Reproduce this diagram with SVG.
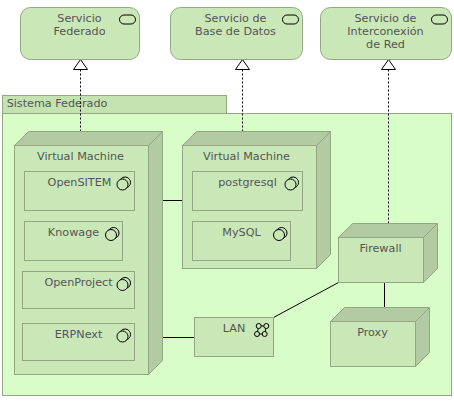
<svg xmlns="http://www.w3.org/2000/svg" width="454" height="401" viewBox="0 0 454 401">
<style>
text{font-family:"DejaVu Sans",sans-serif;font-size:11.2px;fill:#555;text-anchor:middle}
.b{fill:#c9e7b7;stroke:#92a882;stroke-width:1}
.d{fill:#b2cba3;stroke:#92a882;stroke-width:1}
.g{fill:#d9fdc9;stroke:#92a882}
.t{fill:#c4e3b1;stroke:#92a882}
.i{fill:none;stroke:#000;stroke-width:1}
.c{stroke:#000;stroke-width:1;fill:none}
.r{stroke:#000;stroke-width:1;fill:none;stroke-dasharray:2 2}
</style>
<defs>
<g id="svc"><rect x="-8" y="-4.500" width="16" height="9" rx="4.500" class="i"/></g>
<g id="comp"><circle cx="2.500" cy="-3" r="5.500" class="i"/><circle cx="0" cy="-1" r="5.500" fill="#c9e7b7" stroke="#000"/></g>
</defs>
<g id="group-sistema"><rect class="t" x="2.500" y="95.500" width="224" height="18"/><rect class="g" x="2.500" y="113.500" width="449" height="282"/><text x="57" y="107">Sistema Federado</text></g>
<g id="connectors">
<path class="c" d="M162 200.500H182M162 337.500H194.500M273.500 317.500L338.500 282.500M384.500 282.500V307.500"/>
<path class="r" d="M80.500 131.500V69.500"/><path class="r" d="M242.500 131.500V69.500"/><path class="r" d="M388.500 223.500V69.500"/>
<path d="M80.500 59.500L73.500 69.500H87.500Z M242.500 59.500L235.500 69.500H249.500Z M388.500 59.500L381.500 69.500H395.500Z" fill="#fff" stroke="#000"/>
</g>
<g id="svc1"><rect class="b" x="20.500" y="7.500" width="119" height="52" rx="10"/><text x="79.500" y="22">Servicio</text><text x="79.500" y="35">Federado</text><use href="#svc" x="127.500" y="19.500"/></g>
<g id="svc2"><rect class="b" x="170.500" y="7.500" width="132" height="52" rx="10"/><text x="235.500" y="22">Servicio de</text><text x="235.500" y="35">Base de Datos</text><use href="#svc" x="290.500" y="19.500"/></g>
<g id="svc3"><rect class="b" x="320.500" y="7.500" width="131" height="52" rx="10"/><text x="385.500" y="22">Servicio de</text><text x="385.500" y="35">Interconexión</text><text x="385.500" y="48">de Red</text><use href="#svc" x="439.500" y="19.500"/></g>
<g id="vm1"><path class="d" d="M14.500 145.500L28.500 131.500H162.500V360.500L148.500 374.500V145.500ZM148.500 145.500L162.500 131.500"/><rect class="b" x="14.500" y="145.500" width="134" height="229"/><text x="80.500" y="160">Virtual Machine</text></g>
<g id="opensitem"><rect class="b" x="24.500" y="171.500" width="110" height="39"/><text x="79.500" y="186">OpenSITEM</text><use href="#comp" x="122.500" y="185.500"/></g>
<g id="knowage"><rect class="b" x="24.500" y="221.500" width="98" height="39"/><text x="73.500" y="236">Knowage</text><use href="#comp" x="111" y="236"/></g>
<g id="openproject"><rect class="b" x="22.500" y="271.500" width="112" height="37"/><text x="78.500" y="286">OpenProject</text><use href="#comp" x="122.500" y="286"/></g>
<g id="erpnext"><rect class="b" x="22.500" y="323.500" width="112" height="37"/><text x="78.500" y="338">ERPNext</text><use href="#comp" x="122.500" y="337.500"/></g>
<g id="vm2"><path class="d" d="M182.500 145.500L196.500 131.500H330.500V254.500L316.500 268.500V145.500ZM316.500 145.500L330.500 131.500"/><rect class="b" x="182.500" y="145.500" width="134" height="123"/><text x="246.500" y="160">Virtual Machine</text></g>
<g id="postgresql"><rect class="b" x="192.500" y="171.500" width="110" height="39"/><text x="247.500" y="186">postgresql</text><use href="#comp" x="290.500" y="185.500"/></g>
<g id="mysql"><rect class="b" x="192.500" y="221.500" width="98" height="39"/><text x="241.500" y="236">MySQL</text><use href="#comp" x="279" y="236"/></g>
<g id="firewall"><path class="d" d="M338.500 237.500L352.500 223.500H437.500V268.500L423.500 282.500V237.500ZM423.500 237.500L437.500 223.500"/><rect class="b" x="338.500" y="237.500" width="85" height="45"/><text x="380.500" y="252">Firewall</text></g>
<g id="proxy"><path class="d" d="M330.500 321.500L344.500 307.500H429.500V352.500L415.500 366.500V321.500ZM415.500 321.500L429.500 307.500"/><rect class="b" x="330.500" y="321.500" width="85" height="45"/><text x="372.500" y="336">Proxy</text></g>
<g id="lan"><rect class="b" x="194.500" y="317.500" width="79" height="39"/><text x="234" y="332">LAN</text><path class="i" d="M258.700 326H266.300L264.700 334H257Z"/><g fill="#c9e7b7" stroke="#000"><circle cx="258.700" cy="326" r="2.500"/><circle cx="266.300" cy="326" r="2.500"/><circle cx="257" cy="334" r="2.500"/><circle cx="264.700" cy="334" r="2.500"/></g></g>
</svg>
